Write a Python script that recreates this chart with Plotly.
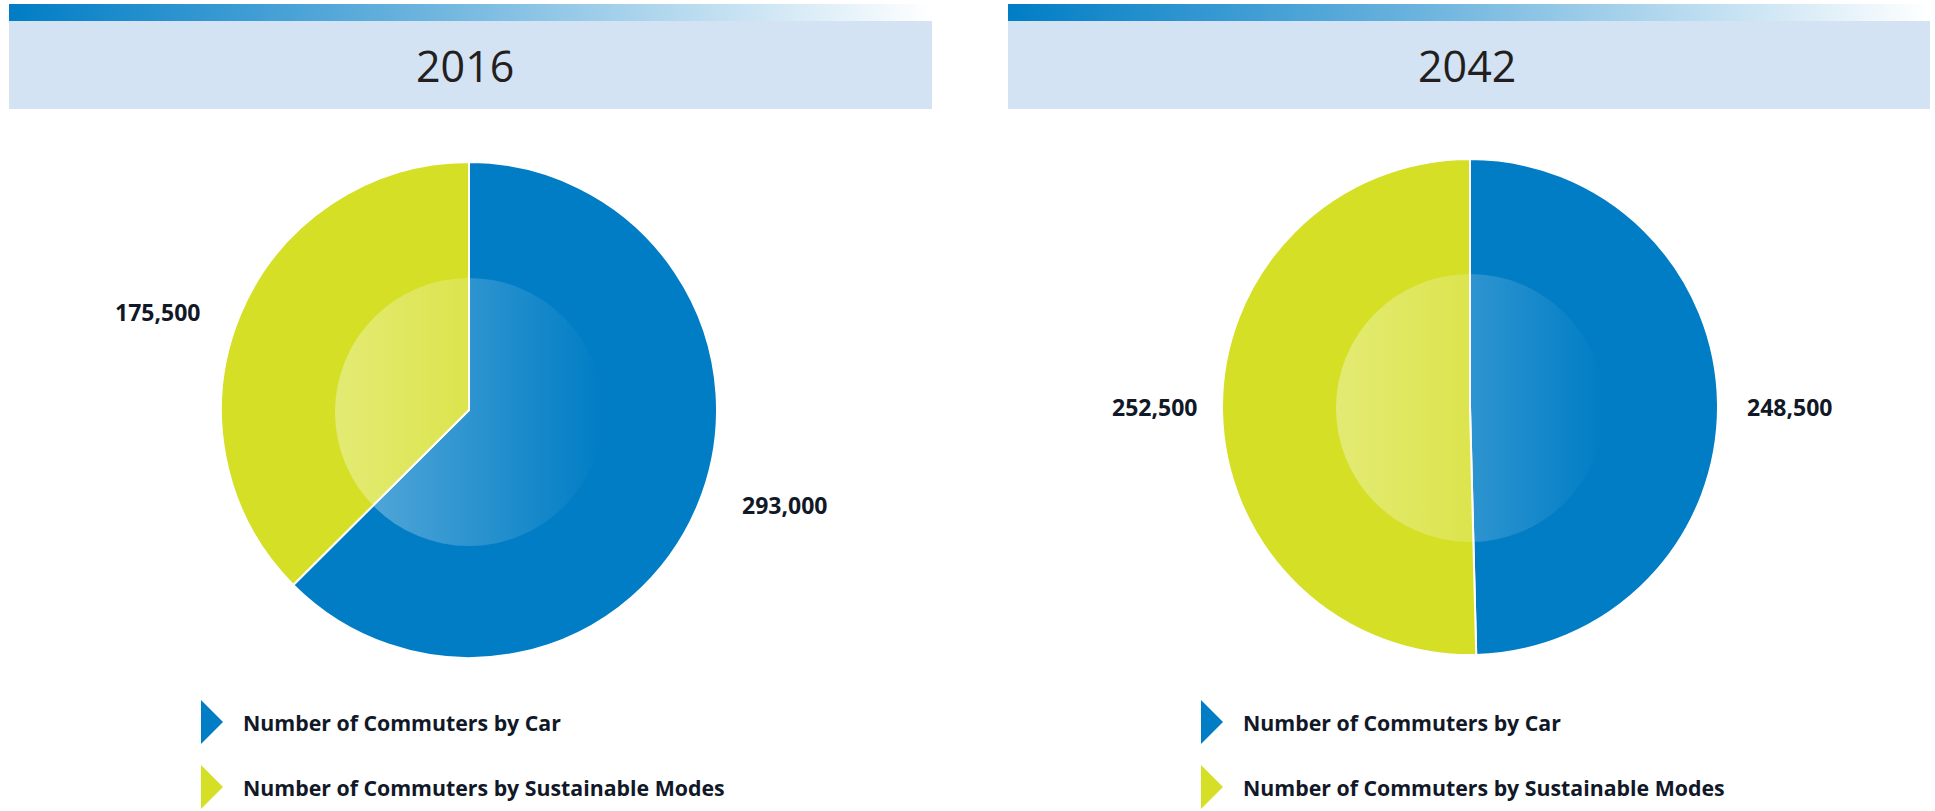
import base64
import plotly.graph_objects as go

W, H = 1935, 811

years = ["2016", "2042"]
categories = ["Number of Commuters by Car", "Number of Commuters by Sustainable Modes"]
car_values = [293000, 248500]
sustainable_values = [175500, 252500]
colors = ["#007dc5", "#d4df26"]

# layout (pixels)
pie_centers = [(469, 410), (1470, 407)]
pie_r = 248
inner_centers = [(469, 412), (1470, 408)]
inner_r = 134
header_x = [(9, 932), (1008, 1930)]
title_x = [465, 1467]
label_pos = [[(784, 505), (157, 312)], [(1789, 407), (1154, 407)]]
legend_x = [201, 1201]
legend_y = [722, 787]


def px(x):
    return x / W


def py(y):
    return 1 - y / H


def svg_uri(svg):
    return "data:image/svg+xml;base64," + base64.b64encode(svg.encode()).decode()


fig = go.Figure()
shapes, images, annotations = [], [], []

for i, year in enumerate(years):
    cx, cy = pie_centers[i]
    fig.add_trace(go.Pie(
        labels=categories,
        values=[car_values[i], sustainable_values[i]],
        sort=False, direction="clockwise", rotation=0,
        marker=dict(colors=colors, line=dict(color="white", width=2)),
        textinfo="none", hoverinfo="label+value", showlegend=False,
        domain=dict(x=[px(cx - pie_r), px(cx + pie_r)], y=[py(cy + pie_r), py(cy - pie_r)]),
    ))

    # header
    x0, x1 = header_x[i]
    shapes.append(dict(type="rect", xref="paper", yref="paper", x0=px(x0), x1=px(x1),
                       y0=py(109), y1=py(21), fillcolor="#d3e3f3", line=dict(width=0), layer="below"))
    bw = x1 - x0
    bar_svg = (f"<svg xmlns='http://www.w3.org/2000/svg' width='{bw}' height='17' viewBox='0 0 {bw} 17' preserveAspectRatio='none'>"
               "<defs><linearGradient id='g' x1='0' y1='0' x2='1' y2='0'>"
               "<stop offset='0' stop-color='#007dc5'/><stop offset='0.45' stop-color='#6cb4de'/>"
               "<stop offset='1' stop-color='#ffffff'/></linearGradient></defs>"
               f"<rect x='0' y='0' width='{bw}' height='17' fill='url(#g)'/></svg>")
    images.append(dict(source=svg_uri(bar_svg), xref="paper", yref="paper", x=px(x0), y=py(4),
                       sizex=bw / W, sizey=17 / H, xanchor="left", yanchor="top", sizing="stretch", layer="below"))
    annotations.append(dict(text=year, xref="paper", yref="paper", x=px(title_x[i]), y=py(66),
                            showarrow=False, xanchor="center", yanchor="middle",
                            font=dict(family="Open Sans", size=43, color="#231f20")))

    # inner highlight circle
    icx, icy = inner_centers[i]
    d = 2 * inner_r
    circ_svg = (f"<svg xmlns='http://www.w3.org/2000/svg' width='{d}' height='{d}' viewBox='0 0 {d} {d}'>"
                "<defs><linearGradient id='g' x1='0' y1='0' x2='1' y2='0'>"
                "<stop offset='0' stop-color='#ffffff' stop-opacity='0.36'/>"
                "<stop offset='0.5' stop-color='#ffffff' stop-opacity='0.18'/>"
                "<stop offset='1' stop-color='#ffffff' stop-opacity='0'/></linearGradient></defs>"
                f"<circle cx='{inner_r}' cy='{inner_r}' r='{inner_r}' fill='url(#g)'/></svg>")
    images.append(dict(source=svg_uri(circ_svg), xref="paper", yref="paper", x=px(icx - inner_r), y=py(icy - inner_r),
                       sizex=d / W, sizey=d / H, xanchor="left", yanchor="top", sizing="stretch", layer="above"))

    # value labels
    vals = [car_values[i], sustainable_values[i]]
    for (lx, ly), v in zip(label_pos[i], vals):
        annotations.append(dict(text=f"<b>{v:,}</b>", xref="paper", yref="paper", x=px(lx), y=py(ly),
                                showarrow=False, xanchor="center", yanchor="middle",
                                font=dict(family="Open Sans", size=23, color="#111827")))

    # legend
    lx = legend_x[i]
    for j, cat in enumerate(categories):
        ly = legend_y[j]
        shapes.append(dict(type="path", xref="paper", yref="paper",
                           path=f"M {px(lx)} {py(ly - 22)} L {px(lx + 22)} {py(ly)} L {px(lx)} {py(ly + 22)} Z",
                           fillcolor=colors[j], line=dict(width=0)))
        annotations.append(dict(text=f"<b>{cat}</b>", xref="paper", yref="paper", x=px(lx + 40), y=py(ly),
                                showarrow=False, xanchor="left", yanchor="middle",
                                font=dict(family="Open Sans", size=21.3, color="#111827")))

fig.update_layout(
    width=W, height=H, margin=dict(l=0, r=0, t=0, b=0),
    paper_bgcolor="white", plot_bgcolor="white",
    shapes=shapes, images=images, annotations=annotations,
)

fig.write_html("out.html")
